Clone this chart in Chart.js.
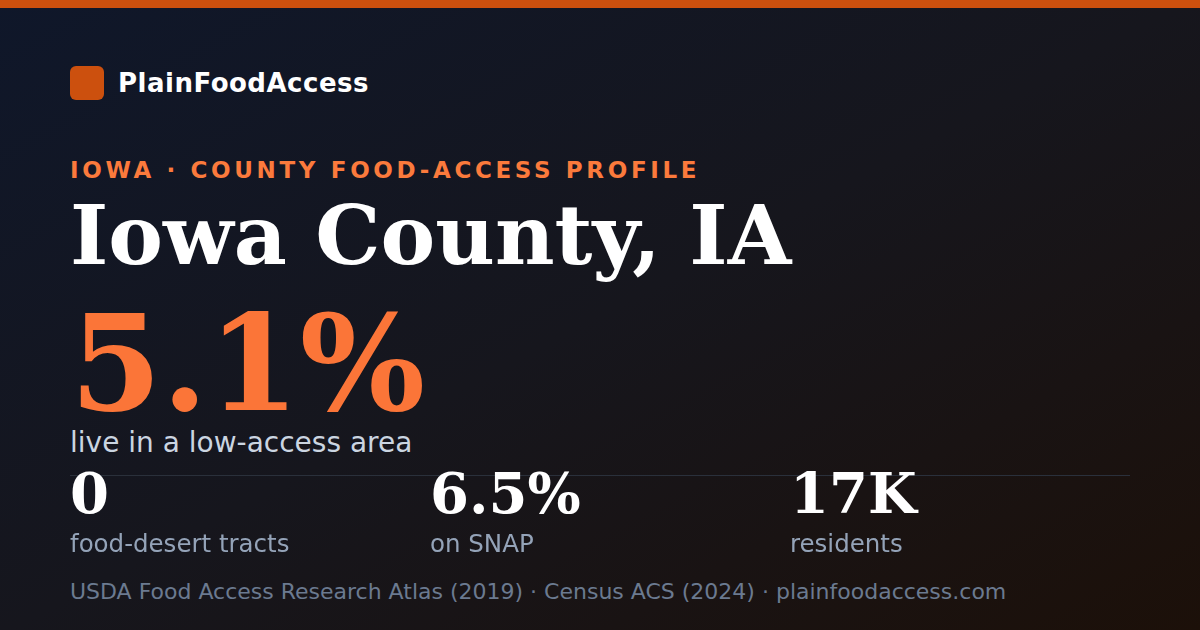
<!DOCTYPE html>
<html>
<head>
<meta charset="utf-8">
<script src="https://cdn.jsdelivr.net/npm/chart.js@4/dist/chart.umd.min.js"></script>
<style>
  html,body{margin:0;padding:0;}
  body{width:1200px;height:630px;overflow:hidden;}
  #card{position:relative;width:1200px;height:630px;overflow:hidden;
    background:linear-gradient(152deg,#0f172a 0%,#16161d 50%,#1c1009 100%);
    font-family:"DejaVu Sans",sans-serif;}
  #topbar{position:absolute;left:0;top:0;width:1200px;height:8px;background:#cc500e;}
  #logo{position:absolute;left:70px;top:66px;width:34px;height:34px;border-radius:6px;background:#cc500e;}
  #brand{position:absolute;left:118px;top:66px;line-height:34px;font-size:26px;font-weight:bold;color:#ffffff;letter-spacing:0.5px;}
  #kicker{position:absolute;left:70px;top:153px;font-size:23px;font-weight:bold;color:#fb7a3c;letter-spacing:3.65px;line-height:34px;white-space:nowrap;}
  #title{position:absolute;left:70px;top:185px;font-family:"DejaVu Serif",serif;font-weight:bold;font-size:82px;line-height:100px;color:#ffffff;white-space:nowrap;}
  #big{position:absolute;left:70px;top:304px;font-family:"DejaVu Serif",serif;font-weight:bold;font-size:132px;line-height:120px;color:#fb7538;white-space:nowrap;}
  #bigLabel{position:absolute;left:70px;top:428px;font-size:28px;line-height:30px;color:#cbd5e1;white-space:nowrap;}
  #divider{position:absolute;left:70px;top:475px;width:1060px;height:12px;}
  .stat{position:absolute;top:458px;width:360px;}
  .statVal{font-family:"DejaVu Serif",serif;font-weight:bold;font-size:56px;line-height:70px;color:#ffffff;white-space:nowrap;}
  .statLab{font-size:24.5px;line-height:30px;color:#94a3b8;white-space:nowrap;margin-top:1px;}
  #footer{position:absolute;left:70px;top:576px;font-size:22px;line-height:32px;color:#6b7a90;white-space:nowrap;}
</style>
</head>
<body>
<div id="card">
  <div id="topbar"></div>
  <div id="logo"></div>
  <div id="brand"></div>
  <div id="kicker"></div>
  <div id="title"></div>
  <div id="big"></div>
  <div id="bigLabel"></div>
  <div id="divider"><canvas id="dividerChart"></canvas></div>
  <div id="stats"></div>
  <div id="footer"></div>
</div>
<script>
const brandName = "PlainFoodAccess";
const kickerText = "IOWA · COUNTY FOOD-ACCESS PROFILE";
const titleText = "Iowa County, IA";
const headlineValue = "5.1%";
const headlineLabel = "live in a low-access area";
const statValues = ["0", "6.5%", "17K"];
const statLabels = ["food-desert tracts", "on SNAP", "residents"];
const footerText = "USDA Food Access Research Atlas (2019) · Census ACS (2024) · plainfoodaccess.com";

document.getElementById('brand').textContent = brandName;
document.getElementById('kicker').textContent = kickerText;
document.getElementById('title').textContent = titleText;
document.getElementById('big').textContent = headlineValue;
document.getElementById('bigLabel').textContent = headlineLabel;
document.getElementById('footer').textContent = footerText;

const statsEl = document.getElementById('stats');
statValues.forEach((v, i) => {
  const d = document.createElement('div');
  d.className = 'stat';
  d.style.left = (70 + i * 360) + 'px';
  const a = document.createElement('div'); a.className = 'statVal'; a.textContent = v;
  const b = document.createElement('div'); b.className = 'statLab'; b.textContent = statLabels[i];
  d.appendChild(a); d.appendChild(b);
  statsEl.appendChild(d);
});

// Divider rule drawn as the top border of a Chart.js category axis over the stat columns
new Chart(document.getElementById('dividerChart'), {
  type: 'line',
  data: {
    labels: statLabels,
    datasets: [{ data: statValues.map(() => 0), pointRadius: 0, borderWidth: 0, showLine: false }]
  },
  options: {
    responsive: true,
    maintainAspectRatio: false,
    animation: false,
    events: [],
    layout: { padding: 0 },
    plugins: { legend: { display: false }, tooltip: { enabled: false } },
    scales: {
      x: {
        position: 'top',
        offset: false,
        grid: { display: true, color: 'transparent', drawTicks: false },
        border: { display: true, color: '#2a303b', width: 2 },
        ticks: { display: false }
      },
      y: { display: false }
    }
  }
});
</script>
</body>
</html>
